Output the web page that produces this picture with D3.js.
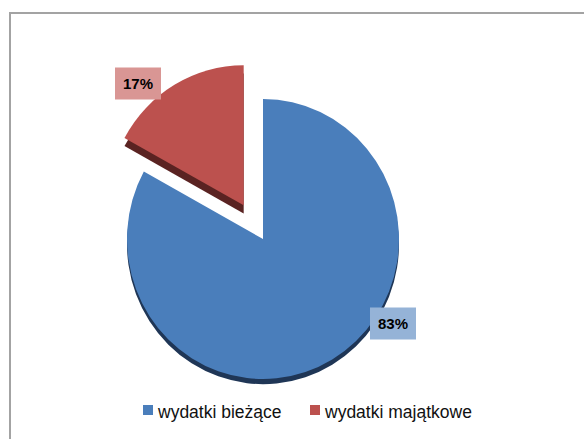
<!DOCTYPE html>
<meta charset="utf-8">
<script src="https://d3js.org/d3.v7.min.js"></script>
<style>
  body { margin: 0; background: #fff; }
</style>
<div id="vis"></div>
<script type="text/javascript">

var categories = ["wydatki bieżące", "wydatki majątkowe"];
var values = [83, 17];
var labels = ["83%", "17%"];

var colors = ["#4a7ebb", "#bc514e"],
    sideColors = ["#1f3656", "#5a2322"],
    labelFills = ["#95b3d7", "#d99694"];

var width = 584, height = 439;
var cx = 263, cy = 239, r = 136, ry = 140;

var svg = d3.select("#vis")
  .append("svg")
    .attr("width", width)
    .attr("height", height);

// chart frame
svg.append("rect")
  .attr("x", 10)
  .attr("y", 13)
  .attr("width", width)
  .attr("height", height)
  .attr("fill", "white")
  .attr("stroke", "#a3a3a3")
  .attr("stroke-width", 2);

var pie = d3.pie().sort(null).value(d => d)(values);
var arc = d3.arc().innerRadius(0).outerRadius(r);

var explode = [0, 38];   // only the small slice is pulled out
var depth = [5, 8];

function offset(d, i) {
  var mid = (d.startAngle + d.endAngle) / 2;
  return [Math.sin(mid) * explode[i], -Math.cos(mid) * explode[i]];
}

var g = svg.append("g")
  .attr("transform", "translate(" + cx + "," + cy + ") scale(1," + (ry / r) + ")");

// side walls first, then top faces
pie.forEach((d, i) => {
  var o = offset(d, i);
  g.append("path")
    .attr("d", arc(d))
    .attr("fill", sideColors[i])
    .attr("transform", "translate(" + o[0] + "," + (o[1] + depth[i]) + ")");
});

pie.forEach((d, i) => {
  var o = offset(d, i);
  g.append("path")
    .attr("d", arc(d))
    .attr("fill", colors[i])
    .attr("transform", "translate(" + o[0] + "," + o[1] + ")");
});

// data labels
var labelPos = [[393, 323.5], [138, 83.5]];
labels.forEach((t, i) => {
  var p = labelPos[i];
  svg.append("rect")
    .attr("x", p[0] - 23)
    .attr("y", p[1] - 16)
    .attr("width", 46)
    .attr("height", 32)
    .attr("fill", labelFills[i]);
  svg.append("text")
    .attr("x", p[0])
    .attr("y", p[1] + 5.5)
    .attr("text-anchor", "middle")
    .style("font-family", "Liberation Sans, Arial, sans-serif")
    .style("font-weight", "bold")
    .style("font-size", "15px")
    .attr("fill", "#000")
    .text(t);
});

// legend
var legendX = [143, 310];
var legend = svg.append("g");
categories.forEach((c, i) => {
  legend.append("rect")
    .attr("x", legendX[i])
    .attr("y", 405)
    .attr("width", 10)
    .attr("height", 10)
    .attr("fill", colors[i]);
  legend.append("text")
    .attr("x", legendX[i] + 15)
    .attr("y", 418)
    .style("font-family", "Liberation Sans, Arial, sans-serif")
    .style("font-size", "17.5px")
    .attr("fill", "#111")
    .text(c);
});

</script>
